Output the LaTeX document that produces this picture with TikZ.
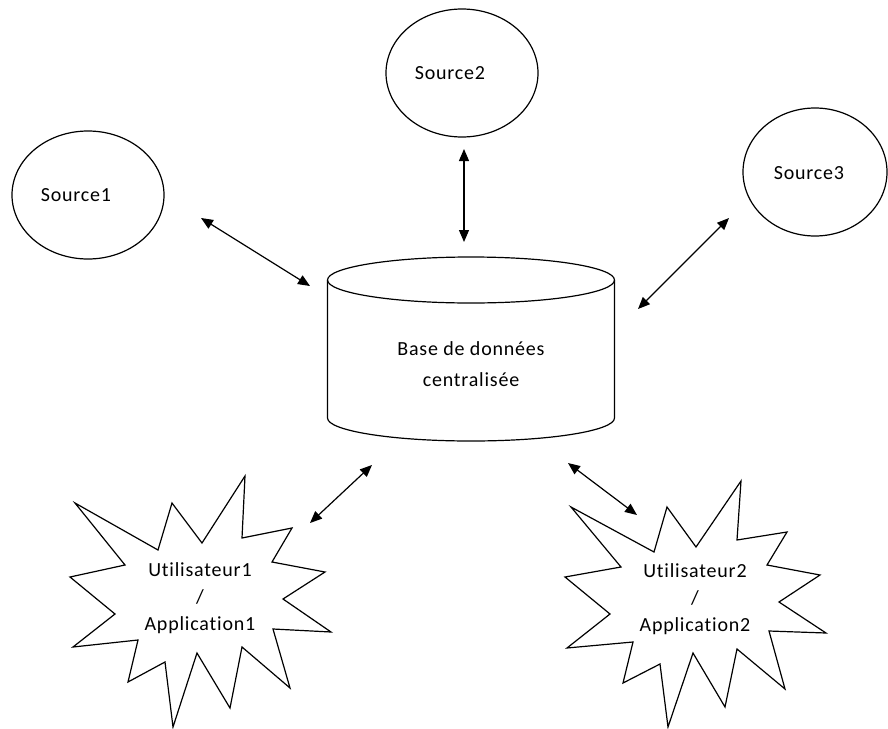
\documentclass[tikz,border=0pt]{standalone}
\usepackage{fontspec}
\setmainfont[Ligatures=NoCommon,LetterSpace=4]{Carlito}
\usetikzlibrary{shapes.geometric,arrows.meta}
\begin{document}
\begin{tikzpicture}[x=1pt,y=-1pt,
  outline/.style={draw=black,line width=1.2pt},
  srcshape/.style={outline,ellipse,inner sep=0pt,minimum height=128pt},
  lbl/.style={font=\fontsize{20}{25}\selectfont,inner sep=0pt,align=center},
  link/.style={line width=1.2pt,{Triangle[length=12pt,width=10pt]}-{Triangle[length=12pt,width=10pt]}},
  burst/.style={outline,line join=miter}]
\useasboundingbox (0,0) rectangle (888,728);

% Sources
\node[srcshape,minimum width=152pt] (s1) at (88,195) {};
\node[lbl] (s1t) at (76,195) {Source1};
\node[srcshape,minimum width=152pt] (s2) at (462,73) {};
\node[lbl] (s2t) at (450,73) {Source2};
\node[srcshape,minimum width=144pt] (s3) at (815,172) {};
\node[lbl] (s3t) at (809,173) {Source3};

% Central database cylinder
\draw[outline] (471,280) ellipse [x radius=143.5, y radius=23];
\draw[outline] (327.5,280) -- (327.5,418) arc [start angle=180,end angle=360,x radius=143.5,y radius=-23] -- (614.5,280);
\node[lbl] (db) at (471,364) {Base de données\\[6pt]centralisée};

% User / application bursts
\draw[burst] (245,476) -- (242,538) -- (292,528) -- (272,562) -- (325,572) -- (283,599)
  -- (331,632) -- (273,629) -- (290,688) -- (242,647) -- (230,708) -- (197,653)
  -- (173,727) -- (165,662) -- (128,682) -- (138,640) -- (73,647) -- (115,614)
  -- (70,577) -- (125,565) -- (75,503) -- (158,550) -- (172,503) -- (202,543) -- cycle;
\node[lbl] (u1) at (200,598) {Utilisateur1\\[2pt]/\\[2pt]Application1};

\draw[burst] (741,481) -- (737,540) -- (787,532) -- (767,565) -- (820,575) -- (779,602)
  -- (826,633) -- (769,631) -- (785,689) -- (737,649) -- (725,707) -- (693,653)
  -- (668,727) -- (660,664) -- (623,683) -- (633,642) -- (567,648) -- (610,614)
  -- (565,577) -- (621,567) -- (571,507) -- (654,552) -- (667,507) -- (696,547) -- cycle;
\node[lbl] (u2) at (695,599) {Utilisateur2\\[2pt]/\\[2pt]Application2};

% Connector end points
\coordinate (a1s) at (201,218);  \coordinate (a1d) at (310,286);
\coordinate (a2s) at (464,149);  \coordinate (a2d) at (464,242);
\coordinate (a3s) at (729,218);  \coordinate (a3d) at (638,309);
\coordinate (a4d) at (372,465);  \coordinate (a4u) at (310,523);
\coordinate (a5d) at (568,463);  \coordinate (a5u) at (637,515);

\draw[link] (a1s) -- (a1d);
\draw[link] (a2s) -- (a2d);
\draw[link] (a3s) -- (a3d);
\draw[link] (a4d) -- (a4u);
\draw[link] (a5d) -- (a5u);
\end{tikzpicture}
\end{document}
